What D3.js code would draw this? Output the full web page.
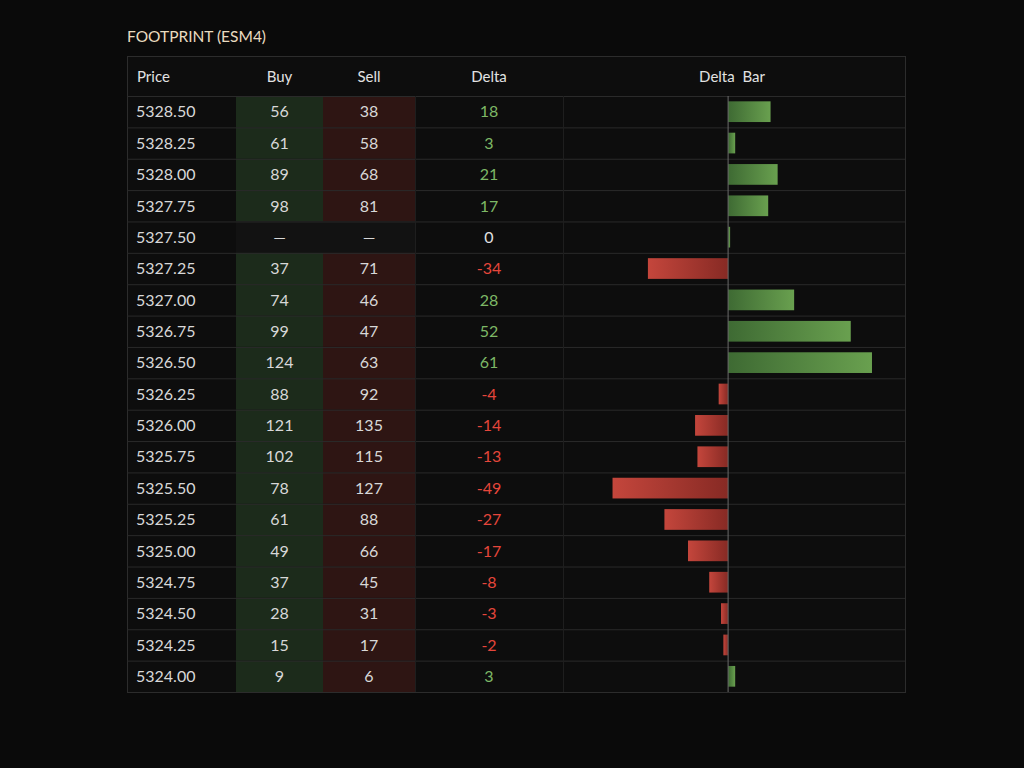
<!DOCTYPE html>
<html>
<head>
<meta charset="utf-8">
<script src="https://cdn.jsdelivr.net/npm/d3@7"></script>
<style>
  body { margin: 0; background: #0a0a0a; }
  svg { display: block; }
</style>
</head>
<body>
<div id="chart"></div>
<script>
// footprint data, top price first
var prices = ["5328.50","5328.25","5328.00","5327.75","5327.50","5327.25","5327.00","5326.75","5326.50",
              "5326.25","5326.00","5325.75","5325.50","5325.25","5325.00","5324.75","5324.50","5324.25","5324.00"];
var buys   = [56, 61, 89, 98, null, 37, 74, 99, 124, 88, 121, 102, 78, 61, 49, 37, 28, 15, 9];
var sells  = [38, 58, 68, 81, null, 71, 46, 47, 63, 92, 135, 115, 127, 88, 66, 45, 31, 17, 6];
var deltas = [18, 3, 21, 17, 0, -34, 28, 52, 61, -4, -14, -13, -49, -27, -17, -8, -3, -2, 3];
var headers = ["Price", "Buy", "Sell", "Delta", "Delta  Bar"];

var W = 1024, H = 768;
var svg = d3.select("#chart").append("svg").attr("width", W).attr("height", H);
var font = "Lato, 'Noto Sans', sans-serif";

var tLeft = 127, tRight = 905, tTop = 56, headH = 40, tBottom = 692;
// column edges
var cols = [127, 236, 323, 415, 563, 905];

var rows = d3.range(prices.length);
var y = d3.scaleBand().domain(rows).range([tTop + headH, tBottom]);
var x = d3.scaleLinear().domain([-70, 75]).range([563, 905]);

var defs = svg.append("defs");
var gG = defs.append("linearGradient").attr("id", "gpos");
gG.append("stop").attr("offset", "0%").attr("stop-color", "#3e6a33");
gG.append("stop").attr("offset", "100%").attr("stop-color", "#69a04f");
var gR = defs.append("linearGradient").attr("id", "gneg");
gR.append("stop").attr("offset", "0%").attr("stop-color", "#c4463c");
gR.append("stop").attr("offset", "100%").attr("stop-color", "#872a24");

svg.append("text")
  .attr("x", 127).attr("y", 42)
  .style("font-family", font).style("font-size", "15.5px")
  .attr("fill", "#eadcc0")
  .text("FOOTPRINT (ESM4)");

svg.append("rect")
  .attr("x", tLeft + 0.5).attr("y", tTop + 0.5).attr("width", tRight - tLeft).attr("height", tBottom - tTop)
  .attr("fill", "#0d0d0d").attr("stroke", "#2c2c2c");

// cell backgrounds for buy / sell
svg.selectAll("rect.buy").data(rows).enter().append("rect")
  .attr("x", cols[1]).attr("y", function (i) { return y(i); })
  .attr("width", cols[2] - cols[1]).attr("height", y.bandwidth())
  .attr("fill", function (i) { return buys[i] == null ? "#121212" : "#1c2b1b"; });
svg.selectAll("rect.sell").data(rows).enter().append("rect")
  .attr("x", cols[2]).attr("y", function (i) { return y(i); })
  .attr("width", cols[3] - cols[2]).attr("height", y.bandwidth())
  .attr("fill", function (i) { return sells[i] == null ? "#121212" : "#2e1513"; });

// grid lines
svg.selectAll("line.h").data(rows).enter().append("line")
  .attr("x1", tLeft).attr("x2", tRight)
  .attr("y1", function (i) { return y(i) + 0.5; }).attr("y2", function (i) { return y(i) + 0.5; })
  .attr("stroke", "#2a2a2a");
svg.selectAll("line.v").data([cols[3], cols[4]]).enter().append("line")
  .attr("x1", function (d) { return d + 0.5; }).attr("x2", function (d) { return d + 0.5; })
  .attr("y1", tTop + headH).attr("y2", tBottom)
  .attr("stroke", "#1e1e1e");

// headers
var hx = [137, (cols[1] + cols[2]) / 2, (cols[2] + cols[3]) / 2, (cols[3] + cols[4]) / 2, 732];
svg.selectAll("text.head").data(headers).enter().append("text")
  .attr("x", function (d, i) { return hx[i]; })
  .attr("y", tTop + 26)
  .attr("text-anchor", function (d, i) { return i == 0 ? "start" : "middle"; })
  .style("font-family", font).style("font-size", "15px")
  .style("white-space", "pre")
  .attr("fill", "#e2e2e2")
  .text(function (d) { return d; });

// delta bars
svg.selectAll("rect.bar").data(rows).enter().append("rect")
  .attr("x", function (i) { return Math.min(x(0), x(deltas[i])); })
  .attr("y", function (i) { return y(i) + y.bandwidth() * 0.17; })
  .attr("width", function (i) { return deltas[i] == 0 ? 2 : Math.abs(x(deltas[i]) - x(0)); })
  .attr("height", y.bandwidth() * 0.66)
  .attr("fill", function (i) { return deltas[i] < 0 ? "url(#gneg)" : "url(#gpos)"; });

svg.append("line")
  .attr("x1", x(0)).attr("x2", x(0)).attr("y1", tTop + headH).attr("y2", tBottom)
  .attr("stroke", "#6a6a6a").attr("stroke-width", 1);

// cell text
function cellText(cls, xpos, anchor, fn, colFn) {
  svg.selectAll("text." + cls).data(rows).enter().append("text")
    .attr("x", xpos).attr("y", function (i) { return y(i) + y.bandwidth() / 2; })
    .attr("dy", "0.36em").attr("text-anchor", anchor)
    .style("font-family", font).style("font-size", "16px")
    .attr("fill", colFn || "#d8d8d8")
    .text(fn);
}
cellText("p", 136, "start", function (i) { return prices[i]; });
cellText("b", hx[1], "middle", function (i) { return buys[i] == null ? "\u2014" : buys[i]; });
cellText("s", hx[2], "middle", function (i) { return sells[i] == null ? "\u2014" : sells[i]; });
cellText("d", hx[3], "middle", function (i) { return deltas[i]; },
  function (i) { return deltas[i] > 0 ? "#7db866" : deltas[i] < 0 ? "#e5463b" : "#e0e0e0"; });
</script>
</body>
</html>
